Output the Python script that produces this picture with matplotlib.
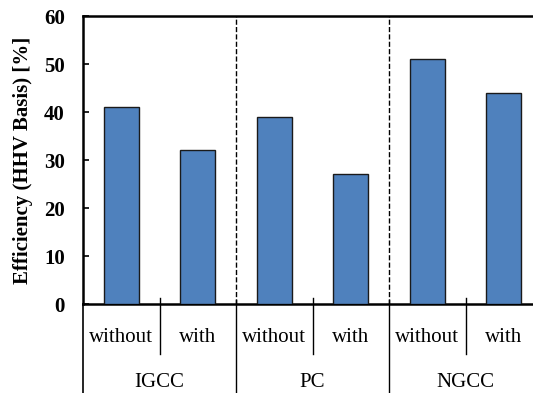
import numpy as np
import matplotlib.pyplot as plt

plt.rcParams['font.family'] = ['Liberation Serif', 'DejaVu Serif']

groups = ['IGCC', 'PC', 'NGCC']
cases = ['without', 'with']
efficiency = [41, 32, 39, 27, 51, 44]

W, H = 533, 393
fig = plt.figure(figsize=(W / 100, H / 100), dpi=100)
ax = fig.add_axes([83 / W, (H - 304) / H, (W - 83) / W, 288 / H])

x = np.arange(len(efficiency)) + 0.5
ax.bar(x, efficiency, width=0.46, color='#4F81BD', edgecolor='#1a1a1a', linewidth=1.0, zorder=3)

ax.set_xlim(0, (W - 83) / 76.5)
ax.set_ylim(0, 60)
ax.set_yticks(np.arange(0, 61, 10))
ax.set_xticks([])
ax.tick_params(axis='y', direction='in', length=4, width=1.2, pad=13, labelsize=15)
for lab in ax.get_yticklabels():
    lab.set_fontweight('bold')
ax.set_ylabel('Efficiency (HHV Basis) [%]', fontsize=15, fontweight='bold', labelpad=8)

for s in ['left', 'top', 'bottom']:
    ax.spines[s].set_linewidth(1.8)
ax.spines['right'].set_visible(False)

# dashed separators between groups
for g in range(1, len(groups)):
    ax.axvline(2 * g, color='black', linestyle='--', linewidth=1.0, zorder=1)

# category axis lines below the plot
tr = ax.get_xaxis_transform()
for i in range(len(groups)):
    ax.plot([2 * i + 1, 2 * i + 1], [0.021, -0.174], color='black', lw=1.0, transform=tr, clip_on=False)
    if i > 0:
        ax.plot([2 * i, 2 * i], [0.014, -0.31], color='black', lw=1.0, transform=tr, clip_on=False)
ax.plot([0, 0], [0, -0.31], color='black', lw=1.2, transform=tr, clip_on=False)

for i, xi in enumerate(x):
    ax.text(xi, -0.115, cases[i % 2], transform=tr, ha='center', va='center', fontsize=15)
for i, g in enumerate(groups):
    ax.text(2 * i + 1, -0.272, g, transform=tr, ha='center', va='center', fontsize=15)

fig.savefig('out.png', dpi=100)
